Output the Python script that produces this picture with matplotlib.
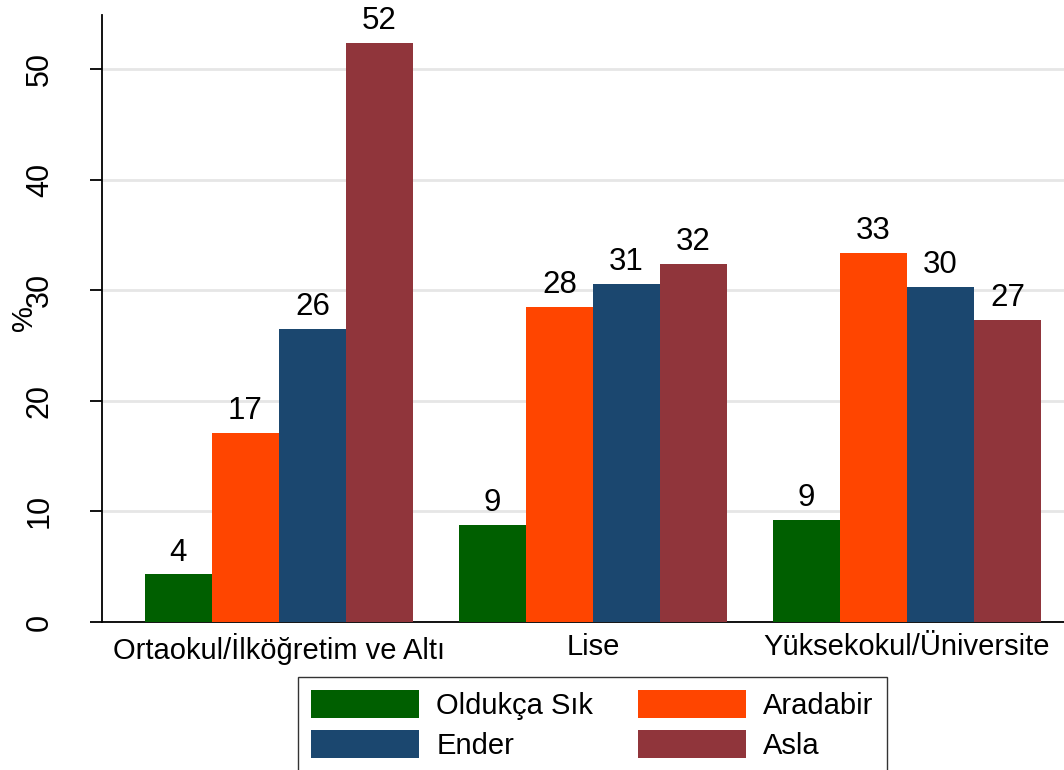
import matplotlib.pyplot as plt
import numpy as np

plt.rcParams['font.family'] = ['Liberation Sans', 'DejaVu Sans']

# data
groups = ["Ortaokul/İlköğretim ve Altı", "Lise", "Yüksekokul/Üniversite"]
series = ["Oldukça Sık", "Aradabir", "Ender", "Asla"]
oldukca_sik = [4.3, 8.8, 9.2]
aradabir = [17.1, 28.5, 33.4]
ender = [26.5, 30.6, 30.3]
asla = [52.4, 32.4, 27.3]
colors = ["#005f00", "#ff4500", "#1b476f", "#90353b"]

fs = 21

fig = plt.figure(figsize=(10.64, 7.7), dpi=100)
ax = fig.add_axes([102 / 1064, 1 - 622 / 770, 1 - 102 / 1064, (622 - 15) / 770])

x = np.arange(len(groups))
w = 0.2135
values = [oldukca_sik, aradabir, ender, asla]
for i, (name, vals, c) in enumerate(zip(series, values, colors)):
    pos = x + (i - 1.5) * w
    ax.bar(pos, vals, width=w, color=c, label=name, zorder=3)
    for p, v in zip(pos, vals):
        ax.annotate(f"{v:.0f}", (p, v), xytext=(0, 5), textcoords="offset points",
                    ha="center", va="bottom", fontsize=22.5)

ax.set_xlim(-0.5635, 2.5)
ax.set_ylim(0, 54.9)
ax.set_yticks([0, 10, 20, 30, 40, 50])
ax.set_yticklabels(["0", "10", "20", "30", "40", "50"], rotation=90, va="center", fontsize=22)
ax.set_xticks(x)
ax.set_xticklabels(groups, fontsize=fs)
ax.tick_params(axis="x", length=0, pad=8)
ax.tick_params(axis="y", length=9, width=1.3, pad=25)
ax.yaxis.grid(True, color="#e6e6e6", linewidth=2, zorder=0)
for s in ["top", "right"]:
    ax.spines[s].set_visible(False)
ax.spines["left"].set_linewidth(1.3)
ax.spines["bottom"].set_linewidth(1.3)
fig.text(24 / 1064, 1 - 318 / 770, "%", rotation=90, ha="center", va="center", fontsize=fs)

handles, labels = ax.get_legend_handles_labels()
order = [0, 2, 1, 3]
leg = fig.legend([handles[k] for k in order], [labels[k] for k in order],
                 loc="upper center", bbox_to_anchor=(592.5 / 1064, 1 - 662 / 770),
                 ncol=2, fontsize=fs, frameon=True, fancybox=False,
                 handlelength=3.7, handleheight=1.13, handletextpad=0.58,
                 columnspacing=1.55, borderpad=0.45, labelspacing=0.33)
leg.get_frame().set_edgecolor("black")
leg.get_frame().set_linewidth(1.0)

fig.savefig("out.png", dpi=100)
